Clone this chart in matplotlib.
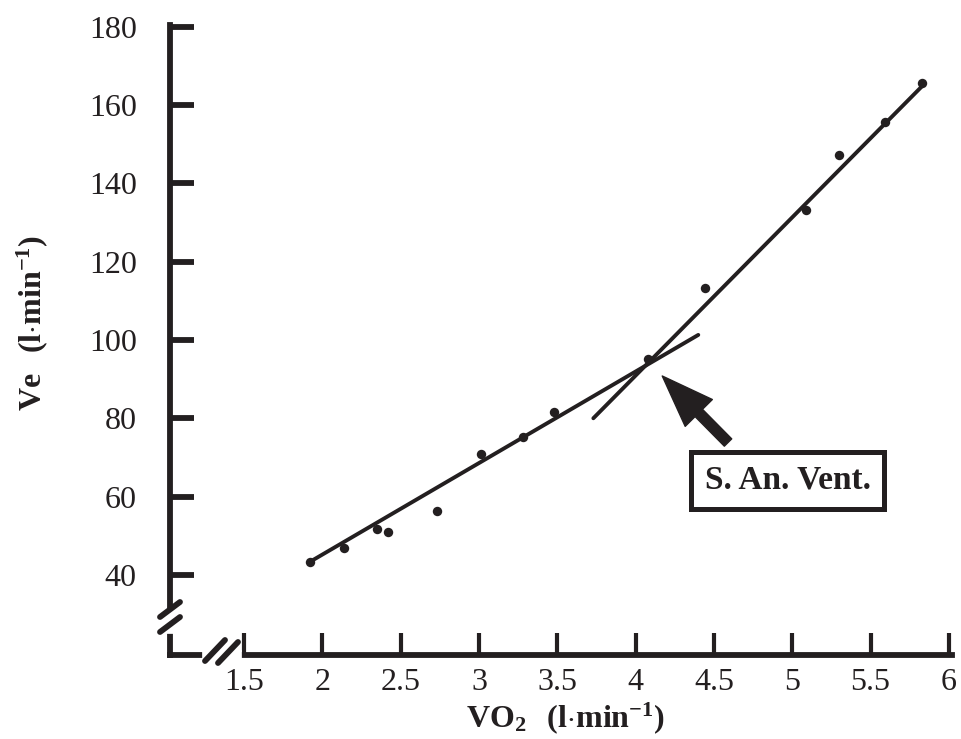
import matplotlib
matplotlib.use("Agg")
import matplotlib.pyplot as plt

plt.rcParams["font.family"] = ["Liberation Serif", "DejaVu Serif"]
plt.rcParams["mathtext.fontset"] = "custom"
plt.rcParams["mathtext.rm"] = "Liberation Serif"
plt.rcParams["mathtext.bf"] = "Liberation Serif:bold"

INK = "#231f20"

# measured points: oxygen uptake (l/min) vs ventilation (l/min)
vo2 = [1.92, 2.14, 2.35, 2.42, 2.73, 3.01, 3.28, 3.48, 4.08, 4.44, 5.09, 5.30, 5.59, 5.83]
ve = [43.3, 46.9, 51.8, 51.0, 56.2, 70.8, 75.1, 81.5, 95.1, 113.3, 133.3, 147.2, 155.6, 165.6]

# two regression segments (end points)
low_x = [1.92, 4.40]
low_y = [43.3, 101.3]
high_x = [3.73, 5.83]
high_y = [80.0, 164.9]

# threshold annotation
arrow_tip = (4.17, 90.8)
arrow_tail = (4.59, 73.8)
label_pos = (4.97, 64.1)

xticks = [1.5, 2, 2.5, 3, 3.5, 4, 4.5, 5, 5.5, 6]
xticklabels = ["1.5", "2", "2.5", "3", "3.5", "4", "4.5", "5", "5.5", "6"]
yticks = [40, 60, 80, 100, 120, 140, 160, 180]

fig = plt.figure(figsize=(9.61, 7.39), dpi=100)
ax = fig.add_axes([170 / 961, 84 / 739, 782 / 961, 630 / 739])

ax.plot(low_x, low_y, color=INK, lw=2.8, solid_capstyle="round")
ax.plot(high_x, high_y, color=INK, lw=2.8, solid_capstyle="round")
ax.scatter(vo2, ve, s=46, color=INK, zorder=3, linewidths=0)

ax.annotate("", xy=arrow_tip, xytext=arrow_tail,
            arrowprops=dict(arrowstyle="simple,head_length=1.7,head_width=1.25,tail_width=0.34",
                            mutation_scale=22, color=INK, shrinkA=0, shrinkB=0))
ax.text(*label_pos, "S. An. Vent.", ha="center", va="center", fontsize=24,
        fontweight="bold", color=INK,
        bbox=dict(boxstyle="square,pad=0.4", fc="white", ec=INK, lw=3.6))

ax.set_xlim(1.027, 6.02)
ax.set_ylim(19.5, 180.5)
ax.set_xticks(xticks)
ax.set_xticklabels(xticklabels)
ax.set_yticks(yticks)

for side in ["top", "right"]:
    ax.spines[side].set_visible(False)
for side in ["left", "bottom"]:
    ax.spines[side].set_linewidth(4.2)
    ax.spines[side].set_color(INK)

ax.tick_params(axis="y", direction="in", length=17, width=4.2, pad=24,
               labelsize=23, colors=INK)
ax.tick_params(axis="x", direction="in", length=16, width=3.0, pad=9,
               labelsize=23, colors=INK)

ax.set_xlabel(r"$\mathbf{VO_2\ \ (l{\cdot}min^{-1})}$", fontsize=23, color=INK)
ax.set_ylabel(r"$\mathbf{Ve\ \ (l{\cdot}min^{-1})}$", fontsize=23, color=INK)
ax.xaxis.set_label_coords((565 - 170) / 782, -(718 - 655) / 630, transform=ax.transAxes)
ax.yaxis.set_label_coords((32 - 170) / 782, 1 - (323 - 25) / 630, transform=ax.transAxes)
ax.xaxis.label.set_va("center")
ax.yaxis.label.set_va("center")

# axis break marks (white gap + double slash), in axes fraction
W, H = 782.0, 630.0
def px(x, y):
    return x / W, 1 - y / H

def slash(x0, y0, x1, y1):
    a, b = px(x0, y0)
    c, d = px(x1, y1)
    ax.plot([a, c], [b, d], transform=ax.transAxes, color=INK, lw=4.2,
            clip_on=False, solid_capstyle="round", zorder=5)

# y axis break
g0, g1 = px(0, 588), px(0, 604)
ax.plot([0, 0], [g0[1], g1[1]], transform=ax.transAxes, color="white", lw=7,
        clip_on=False, zorder=4)
slash(-10, 592, 10, 577)
slash(-10, 607, 10, 592)

# x axis break
g0, g1 = px(37, 630), px(67, 630)
ax.plot([g0[0], g1[0]], [0, 0], transform=ax.transAxes, color="white", lw=7,
        clip_on=False, zorder=4)
slash(35, 636, 55, 615)
slash(48, 638, 68, 617)

fig.savefig("out.png", dpi=100)
